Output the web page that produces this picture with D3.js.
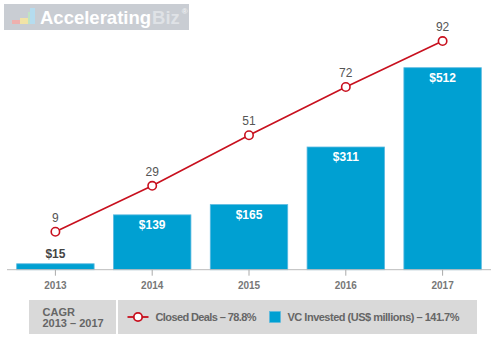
<!DOCTYPE html>
<html><head><meta charset="utf-8">
<script src="https://cdn.jsdelivr.net/npm/d3@7"></script>
<style>body{margin:0;background:#fff}svg{display:block;font-family:"Liberation Sans",Arial,sans-serif}</style>
</head><body>
<script>
const years = ["2013","2014","2015","2016","2017"];
const vcInvested = [15,139,165,311,512];
const closedDeals = [9,29,51,72,92];
const legendTexts = ["Closed Deals – 78.8%","VC Invested (US$ millions) – 141.7%"];
const cagrLines = ["CAGR","2013 – 2017"];

const W=500,H=357;
const svg=d3.select("body").append("svg").attr("width",W).attr("height",H);

// logo
const logo=svg.append("g");
logo.append("rect").attr("x",4).attr("y",4).attr("width",185).attr("height",26).attr("fill","#c9cdd3");
const ic=[{x:12,y:20,w:8,h:4,c:"#eeb0ae"},{x:20,y:18,w:8,h:6,c:"#f1e3a6"},{x:28,y:12,w:6,h:12,c:"#bfe3c4"},{x:30,y:8,w:5,h:16,c:"#b5dcef"}];
logo.selectAll("rect.ic").data(ic).join("rect").attr("class","ic").attr("x",d=>d.x).attr("y",d=>d.y).attr("width",d=>d.w).attr("height",d=>d.h).attr("fill",d=>d.c);
const t1=logo.append("text").attr("x",40).attr("y",23.5).attr("font-size",18.5).attr("font-weight","bold").attr("fill","#fff").text("Accelerating");
const w1=t1.node().getComputedTextLength();
const t2=logo.append("text").attr("x",40+w1+1).attr("y",23.5).attr("font-size",18.5).attr("font-weight","bold").attr("fill","#dfe2e6").text("Biz");
const w2=t2.node().getComputedTextLength();
logo.append("text").attr("x",40+w1+w2+3).attr("y",14).attr("font-size",8).attr("font-weight","bold").attr("fill","#eef0f2").text("®");

const x=d3.scaleBand().domain(years).range([7,491]).paddingInner(0.2).paddingOuter(0.1);
const yBar=d3.scaleLinear().domain([0,600]).range([269.7,269.7-600*0.3945]);
const yLine=d3.scaleLinear().domain([0,100]).range([252.4,252.4-100*2.297]);

// bars
svg.selectAll("rect.bar").data(vcInvested).join("rect").attr("class","bar")
  .attr("x",(d,i)=>x(years[i])).attr("width",x.bandwidth())
  .attr("y",d=>yBar(d)).attr("height",d=>yBar(0)-yBar(d))
  .attr("fill","#00a0d2").attr("stroke","#5ab9e0").attr("stroke-width",0.8);

svg.selectAll("text.bv").data(vcInvested).join("text").attr("class","bv")
  .attr("x",(d,i)=>x(years[i])+x.bandwidth()/2)
  .attr("y",d=>yBar(0)-yBar(d)>30?yBar(d)+14:yBar(d)-6)
  .attr("text-anchor","middle").attr("font-size",12).attr("font-weight","bold")
  .attr("fill",d=>yBar(0)-yBar(d)>30?"#fff":"#444").text(d=>"$"+d);

// axis
const ax=svg.append("g").attr("transform","translate(0,269.7)").call(d3.axisBottom(x).tickSize(6).tickPadding(6));
ax.select(".domain").attr("stroke","#bbb").attr("d","M7,0H491");
ax.selectAll(".tick line").attr("stroke","#aaa").attr("y1",0).attr("y2",6);
ax.selectAll(".tick text").attr("fill","#777").attr("font-size",10).attr("font-weight","bold").attr("font-family","Liberation Sans, Arial, sans-serif");

// line
const cx=(d,i)=>x(years[i])+x.bandwidth()/2;
svg.append("path").datum(closedDeals).attr("fill","none").attr("stroke","#c8101e").attr("stroke-width",1.6)
  .attr("d",d3.line().x(cx).y(d=>yLine(d)));
svg.selectAll("circle.pt").data(closedDeals).join("circle").attr("class","pt")
  .attr("cx",cx).attr("cy",d=>yLine(d)).attr("r",4.2).attr("fill","#fff").attr("stroke","#c8101e").attr("stroke-width",1.6);
svg.selectAll("text.pl").data(closedDeals).join("text").attr("class","pl")
  .attr("x",cx).attr("y",d=>yLine(d)-10).attr("text-anchor","middle").attr("font-size",12).attr("fill","#555").text(d=>d);

// legend
svg.append("rect").attr("x",29).attr("y",300).attr("width",87).attr("height",34).attr("fill","#d9d9d9");
svg.append("rect").attr("x",118).attr("y",300).attr("width",359).attr("height",34).attr("fill","#d9d9d9");
svg.selectAll("text.cagr").data(cagrLines).join("text").attr("class","cagr")
  .attr("x",42.5).attr("y",(d,i)=>315.5+i*11).attr("font-size",11).attr("font-weight","bold").attr("fill","#666").text(d=>d);
svg.append("line").attr("x1",127.5).attr("x2",148.5).attr("y1",317).attr("y2",317).attr("stroke","#c8101e").attr("stroke-width",1.8);
svg.append("circle").attr("cx",138).attr("cy",317).attr("r",4.2).attr("fill","#fff").attr("stroke","#c8101e").attr("stroke-width",1.8);
svg.append("text").attr("x",155.5).attr("y",321).attr("font-size",11).attr("font-weight","bold").attr("fill","#666").attr("textLength",101).text(legendTexts[0]);
svg.append("rect").attr("x",269.5).attr("y",311.5).attr("width",11).attr("height",11).attr("fill","#00a0d2").attr("stroke","#5ab9e0").attr("stroke-width",0.6);
svg.append("text").attr("x",287.5).attr("y",321).attr("font-size",11).attr("font-weight","bold").attr("fill","#666").attr("textLength",172).text(legendTexts[1]);
</script>
</body></html>
